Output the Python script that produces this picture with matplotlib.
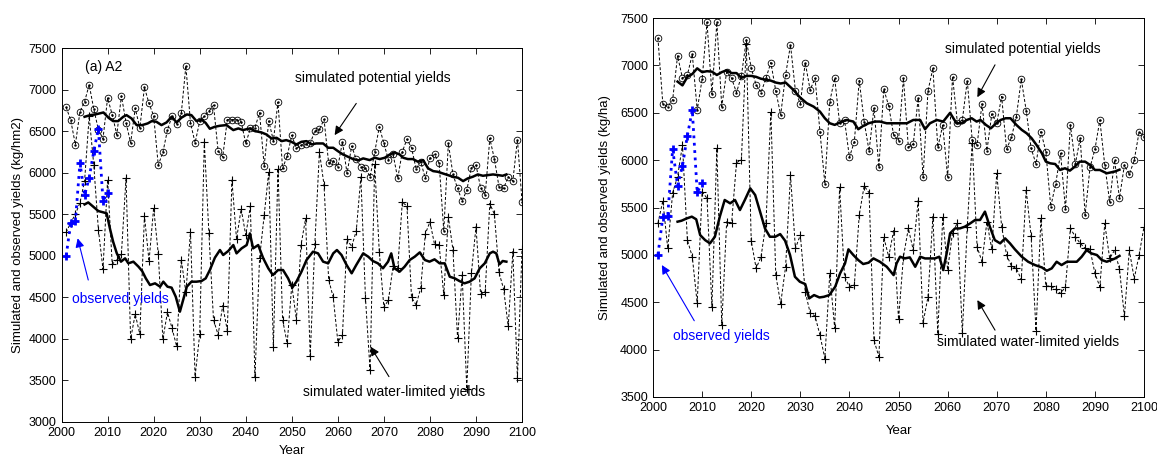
import matplotlib
matplotlib.use("Agg")
import matplotlib.pyplot as plt

plt.rcParams["font.family"] = ["Liberation Sans", "DejaVu Sans"]
plt.rcParams["font.size"] = 9

years = list(range(2001, 2101))
obs_years = list(range(2001, 2011))
observed = [5000, 5400, 5415, 6120, 5730, 5940, 6260, 6530, 5660, 5757]

# ---- panel (a) A2, kg/hm2 ----
pot_a = [6790, 6630, 6340, 6735, 6855, 7060, 6765, 6520, 6410, 6900,
         6700, 6460, 6925, 6605, 6360, 6775, 6540, 7027, 6834, 6685,
         6093, 6245, 6515, 6685, 6590, 6715, 7285, 6600, 6361, 6618,
         6680, 6740, 6814, 6260, 6193, 6640, 6640, 6640, 6614, 6353,
         6533, 6545, 6722, 6085, 6624, 6387, 6850, 6052, 6203, 6450,
         6293, 6333, 6345, 6353, 6505, 6521, 6642, 6120, 6144, 6072,
         6373, 5992, 6321, 6161, 6073, 6053, 5952, 6245, 6554, 6353,
         6153, 6221, 5932, 6253, 6405, 6301, 6045, 6133, 5932, 6181,
         6221, 6113, 5300, 6353, 5980, 5812, 5659, 5792, 6061, 6093,
         5820, 5732, 6413, 6165, 5832, 5812, 5952, 5900, 6400, 5650]
wl_a = [5283, 5400, 5500, 5640, 5900, 6680, 6090, 5315, 4840, 5918,
        4900, 4950, 5025, 5936, 4000, 4298, 4057, 5480, 4935, 5580,
        5025, 3997, 4322, 4128, 3910, 4955, 4560, 5290, 3546, 4057,
        6373, 5270, 4230, 4050, 4400, 4100, 5912, 5200, 5565, 5250,
        5595, 3540, 4970, 5488, 6015, 3900, 6050, 4230, 3948, 4650,
        4230, 5130, 5450, 3797, 5140, 6253, 5852, 4715, 4500, 3967,
        4045, 5200, 5110, 5300, 5950, 4490, 3620, 6100, 5050, 4380,
        4470, 4880, 4850, 5645, 5600, 4500, 4408, 4615, 5265, 5410,
        5138, 5130, 4528, 5470, 5070, 4007, 4769, 3400, 4789, 5350,
        4536, 4569, 5630, 5500, 4800, 4600, 4150, 5050, 3530, 5080]
pot_a_sm_yr = [2005, 2006.2, 2007.3, 2009.1, 2010.2, 2011.2, 2012.3, 2013.4, 2014.1, 2015.2,
               2016.3, 2017.5, 2018.7, 2019.6, 2020.6, 2021.7, 2022.8, 2023.9, 2025, 2026,
               2027.2, 2028.2, 2029.3, 2030.4, 2031.3, 2032.2, 2033.3, 2034.4, 2035.8, 2037.3,
               2038.4, 2039.4, 2040.9, 2042, 2043.4, 2044.5, 2045.6, 2046.7, 2047.8, 2048.8,
               2049.9, 2051, 2052.1, 2053.2, 2054.3, 2055.3, 2056.8, 2057.9, 2059, 2060,
               2061.1, 2062.2, 2063.3, 2064.5, 2065.5, 2066.9, 2068, 2069.1, 2070.2, 2071.3,
               2072.3, 2073.4, 2074.2, 2075.2, 2076.3, 2077.4, 2078.5, 2079.6, 2080.7, 2081.7,
               2082.8, 2083.9, 2085, 2086.1, 2087.2, 2088.2, 2089.3, 2090.4, 2091.5, 2092.6,
               2093.7, 2094.8, 2095.8, 2096.6]
pot_a_sm = [6674, 6694, 6702, 6726, 6662, 6622, 6622, 6674, 6694, 6654,
            6574, 6574, 6594, 6622, 6614, 6574, 6606, 6674, 6606, 6662,
            6702, 6694, 6622, 6640, 6600, 6530, 6554, 6566, 6574, 6514,
            6534, 6514, 6534, 6502, 6486, 6461, 6413, 6421, 6381, 6393,
            6373, 6341, 6373, 6381, 6341, 6353, 6353, 6301, 6301, 6261,
            6221, 6193, 6165, 6150, 6173, 6153, 6181, 6165, 6181, 6221,
            6245, 6221, 6181, 6165, 6165, 6133, 6153, 6053, 6020, 6012,
            5992, 5972, 5952, 5940, 5900, 5932, 5952, 5980, 5964, 5972,
            5980, 5972, 5964, 5980]
wl_a_sm_yr = [2005, 2005.8, 2006.9, 2008, 2009.1, 2009.8, 2010.5, 2011.2, 2012, 2012.9,
              2013.8, 2014.5, 2015.6, 2016.7, 2017.5, 2018.3, 2019.2, 2020.3, 2021.4, 2022.1,
              2023, 2023.9, 2024.8, 2025.7, 2026.4, 2027.2, 2028.2, 2029.3, 2030.4, 2031.3,
              2032.2, 2033.3, 2034.4, 2035.1, 2036.2, 2037.3, 2038, 2039.1, 2040.2, 2040.9,
              2041.6, 2042.7, 2043.8, 2044.9, 2045.9, 2047, 2048.1, 2049.2, 2050.1, 2051,
              2052.1, 2053.2, 2054.6, 2055.7, 2056.8, 2057.9, 2059, 2059.8, 2060.8, 2061.9,
              2063, 2064, 2065.5, 2066.6, 2067.6, 2068.7, 2069.8, 2070.9, 2071.6, 2072.3,
              2073.4, 2074.5, 2075.6, 2076.7, 2077.8, 2078.9, 2079.9, 2081, 2082.1, 2083.2,
              2084.3, 2085.4, 2086.4, 2087.5, 2088.6, 2089.7, 2090.8, 2091.9, 2093, 2093.7,
              2094.4, 2095.1, 2095.8, 2096.6]
wl_a_sm = [5619, 5643, 5591, 5539, 5523, 5511, 5330, 5170, 5030, 4930,
           4970, 4910, 4930, 4870, 4817, 4729, 4649, 4669, 4629, 4689,
           4629, 4617, 4508, 4328, 4468, 4629, 4689, 4689, 4697, 4729,
           4829, 4978, 5070, 5010, 5058, 5130, 5030, 5090, 5130, 5270,
           5090, 5130, 4970, 4850, 4769, 4829, 4829, 4729, 4617, 4689,
           4809, 4950, 5050, 5030, 4930, 4910, 5030, 5070, 5010, 4890,
           4790, 4890, 5030, 4990, 4938, 4910, 4850, 4930, 5030, 4850,
           4809, 4870, 4950, 4990, 5042, 4950, 4930, 4958, 4910, 4910,
           4749, 4729, 4697, 4669, 4689, 4729, 4849, 4910, 5030, 5050,
           5030, 4898, 4938, 4930]

# ---- right panel, kg/ha ----
pot_b = [7289, 6595, 6566, 6637, 7102, 6866, 6901, 7119, 6531, 6855,
         7454, 6700, 7454, 6566, 6936, 6866, 6714, 6890, 7271, 6971,
         6795, 6714, 6866, 7031, 6732, 6478, 6901, 7218, 6732, 6595,
         7031, 6742, 6866, 6302, 5749, 6619, 6866, 6390, 6425, 6031,
         6196, 6841, 6408, 6098, 6549, 5925, 6749, 6573, 6267, 6207,
         6866, 6137, 6172, 6654, 5820, 6732, 6971, 6137, 6368, 5824,
         6883, 6390, 6425, 6841, 6214, 6161, 6595, 6101, 6489, 6390,
         6672, 6115, 6242, 6461, 6855, 6524, 6126, 5960, 6302, 6091,
         5510, 5749, 6073, 5481, 6373, 5960, 6232, 5421, 5925, 6115,
         6425, 5950, 5562, 6000, 5600, 5950, 5850, 6000, 6300, 6250]
wl_b = [5333, 5573, 5069, 5657, 5826, 6161, 5157, 4981, 4488, 5668,
        5598, 4453, 6126, 4259, 5351, 5333, 5974, 6003, 7229, 5150,
        4858, 4981, 5333, 6513, 4787, 4485, 4875, 5844, 5069, 5210,
        4611, 4389, 4354, 4153, 3906, 4805, 4224, 5714, 4770, 4664,
        4682, 5421, 5728, 5657, 4100, 3924, 5185, 4981, 5256, 4319,
        4981, 5280, 5051, 5573, 4284, 4558, 5404, 4164, 5404, 4840,
        5235, 5340, 4178, 5300, 6186, 5087, 4928, 5350, 5058, 5862,
        5300, 5000, 4882, 4858, 4741, 5686, 5199, 4199, 5386, 4671,
        4671, 4636, 4593, 4664, 5280, 5192, 5122, 5069, 5058, 4805,
        4664, 5333, 4963, 5050, 4850, 4350, 5050, 4750, 5000, 5300]
pot_b_sm_yr = [2005, 2006, 2007, 2008, 2009, 2010, 2011, 2012, 2013, 2014,
               2015, 2016, 2017, 2018, 2019, 2020, 2021, 2022, 2023, 2024,
               2025, 2026, 2027, 2028.6, 2029.9, 2031.3, 2032.7, 2034, 2035, 2036,
               2037, 2038, 2039.4, 2040.8, 2041.8, 2042.8, 2043.9, 2045.2, 2046.2, 2047.6,
               2049, 2050.3, 2051.7, 2053, 2054.4, 2055.4, 2056.4, 2057.8, 2059.1, 2060.5,
               2061.8, 2062.9, 2063.9, 2064.9, 2065.9, 2066.7, 2067.8, 2068.8, 2069.9, 2070.8,
               2071.8, 2072.8, 2074, 2075.1, 2076.1, 2077.1, 2078.1, 2079.2, 2080, 2080.9,
               2081.9, 2082.9, 2083.9, 2084.9, 2085.9, 2086.9, 2088, 2089, 2090, 2091,
               2092.4, 2094, 2095]
pot_b_sm = [6830, 6790, 6880, 6910, 6970, 6930, 6940, 6935, 6900, 6930,
            6950, 6920, 6920, 6870, 6890, 6890, 6880, 6860, 6850, 6840,
            6820, 6810, 6820, 6742, 6665, 6602, 6566, 6513, 6443, 6390,
            6373, 6397, 6425, 6408, 6327, 6362, 6390, 6408, 6408, 6390,
            6390, 6390, 6390, 6425, 6425, 6327, 6390, 6425, 6408, 6500,
            6390, 6390, 6425, 6443, 6408, 6425, 6373, 6337, 6390, 6425,
            6443, 6443, 6373, 6320, 6284, 6232, 6161, 6073, 5985, 5967,
            5960, 5897, 5915, 5890, 5932, 5985, 5985, 5950, 5897, 5897,
            5862, 5880, 5900]
wl_b_sm_yr = [2005, 2005.8, 2006.9, 2007.9, 2008.8, 2009.6, 2010.6, 2011.6, 2012.6, 2013.6,
              2014.6, 2015.7, 2016.7, 2017.7, 2018.7, 2019.8, 2020.8, 2021.8, 2022.8, 2023.8,
              2024.9, 2025.9, 2026.9, 2027.9, 2028.9, 2029.9, 2031, 2031.8, 2032.8, 2033.9,
              2034.8, 2035.9, 2037.1, 2038.1, 2039.1, 2039.8, 2040.8, 2041.8, 2042.8, 2043.9,
              2044.9, 2046.2, 2047.6, 2049, 2049.6, 2050.3, 2051.3, 2052.3, 2053.4, 2054.4,
              2055.4, 2056.4, 2057.4, 2058.3, 2059.1, 2059.8, 2060.5, 2061.5, 2062.5, 2063.5,
              2064.6, 2065.6, 2066.6, 2067.6, 2068.6, 2069.6, 2070.7, 2071.7, 2072.7, 2073.7,
              2075.1, 2076.4, 2077.8, 2079.2, 2080.2, 2081.2, 2082.2, 2083.2, 2084.3, 2085.3,
              2086.3, 2087.3, 2088.3, 2089.3, 2090.4, 2091.4, 2092.4, 2094, 2095]
wl_b_sm = [5351, 5361, 5386, 5404, 5376, 5210, 5157, 5122, 5192, 5404,
           5580, 5545, 5580, 5474, 5580, 5703, 5633, 5457, 5280, 5192,
           5192, 5220, 5150, 5000, 4770, 4717, 4692, 4541, 4576, 4551,
           4558, 4576, 4664, 4805, 4910, 5059, 4999, 4946, 4904, 4918,
           4963, 4928, 4875, 4787, 4910, 4981, 4963, 4974, 4875, 4981,
           4963, 4963, 4963, 4981, 4840, 5016, 5228, 5280, 5280, 5298,
           5333, 5369, 5369, 5457, 5298, 5157, 5122, 5175, 5122, 5059,
           4981, 4928, 4893, 4868, 4833, 4858, 4928, 4893, 4928, 4928,
           4928, 4981, 5051, 5016, 4999, 4946, 4928, 4960, 4990]

BLUE = "#0000ff"
DASH = (0, (3, 2))
NOTE = 10


def draw_panel(ax, pot, wl, pot_sm_yr, pot_sm, wl_sm_yr, wl_sm, ylo):
    ax.plot(years, pot, ls=DASH, color="k", lw=0.7, marker="o", ms=4.8,
            mfc="none", mec="k", mew=0.6)
    ax.plot(years, pot, ls="none", marker=".", ms=1.5, color="k")
    ax.plot(years, wl, ls=DASH, color="k", lw=0.7, marker="+", ms=5.5, mew=0.8)
    ax.plot(pot_sm_yr, pot_sm, color="k", lw=1.8)
    ax.plot(wl_sm_yr, wl_sm, color="k", lw=1.8)
    ax.plot(obs_years, observed, ls=":", color=BLUE, lw=2, marker="+",
            ms=6, mew=2)
    ax.set_xlim(2000, 2100)
    ax.set_ylim(ylo, 7500)
    ax.set_xticks(range(2000, 2101, 10))
    ax.set_yticks(range(ylo, 7501, 500))
    ax.tick_params(direction="in", top=True, right=True, length=4,
                   width=0.6, labelsize=9)
    for s in ax.spines.values():
        s.set_linewidth(0.7)


def arrow(ax, head, tail, color="k"):
    ax.annotate("", xy=head, xytext=tail,
                arrowprops=dict(arrowstyle="-|>", color=color, lw=0.8,
                                mutation_scale=13, shrinkA=0, shrinkB=0))


fig = plt.figure(figsize=(11.57, 4.57), dpi=100)

ax1 = fig.add_axes([0.0532, 0.0766, 0.398, 0.818])
draw_panel(ax1, pot_a, wl_a, pot_a_sm_yr, pot_a_sm, wl_a_sm_yr, wl_a_sm, 3000)
ax1.text(2005.1, 7271, "(a) A2", fontsize=NOTE, va="center")
ax1.text(2050.6, 7139, "simulated potential yields", fontsize=NOTE, va="center")
arrow(ax1, (2059.3, 6453), (2064.0, 6835))
ax1.text(2002.2, 4480, "observed yields", fontsize=NOTE, va="center", color=BLUE)
arrow(ax1, (2003.5, 5211), (2005.8, 4709), color=BLUE)
ax1.text(2052.5, 3365, "simulated water-limited yields", fontsize=NOTE, va="center")
arrow(ax1, (2067.1, 3907), (2071.1, 3546))
ax1.set_xlabel("Year", fontsize=9.5)
ax1.set_ylabel("Simulated and observed yields (kg/hm2)", fontsize=9.5)
ax1.yaxis.set_label_coords(-0.082, 0.5)
ax1.xaxis.set_label_coords(0.5, -0.062)

ax2 = fig.add_axes([0.5644, 0.1313, 0.4244, 0.829])
draw_panel(ax2, pot_b, wl_b, pot_b_sm_yr, pot_b_sm, wl_b_sm_yr, wl_b_sm, 3500)
ax2.text(2059.5, 7172, "simulated potential yields", fontsize=NOTE, va="center")
arrow(ax2, (2066.05, 6665), (2069.65, 7007))
ax2.text(2004.1, 4143, "observed yields", fontsize=NOTE, va="center", color=BLUE)
arrow(ax2, (2001.8, 4893), (2008.4, 4305), color=BLUE)
ax2.text(2057.8, 4083, "simulated water-limited yields", fontsize=NOTE, va="center")
arrow(ax2, (2066.05, 4523), (2069.65, 4206))
ax2.set_xlabel("Year", fontsize=9.5)
ax2.set_ylabel("Simulated and observed yields (kg/ha)", fontsize=9.5)
ax2.yaxis.set_label_coords(-0.0855, 0.5)
ax2.xaxis.set_label_coords(0.5, -0.074)

fig.savefig("out.png", dpi=100)
